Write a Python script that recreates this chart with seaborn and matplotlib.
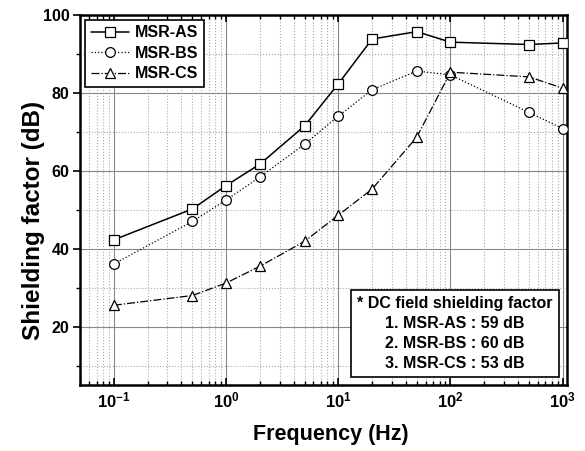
import matplotlib
matplotlib.use("Agg")
import matplotlib.pyplot as plt
import seaborn as sns
import pandas as pd
import numpy as np
from matplotlib.ticker import LogLocator, MultipleLocator, NullFormatter, FuncFormatter

freq = [0.1, 0.5, 1, 2, 5, 10, 20, 50, 100, 500, 1000]
msr_as = [42.3, 50.2, 56.2, 61.7, 71.5, 82.3, 93.8, 95.7, 93.0, 92.4, 92.8]
msr_bs = [36.1, 47.0, 52.5, 58.4, 66.8, 74.0, 80.8, 85.6, 84.6, 75.0, 70.8]
msr_cs = [25.5, 28.0, 31.2, 35.5, 41.9, 48.6, 55.3, 68.6, 85.3, 84.1, 81.2]
series_names = ["MSR-AS", "MSR-BS", "MSR-CS"]
note_lines = ["* DC field shielding factor", "1. MSR-AS : 59 dB", "2. MSR-BS : 60 dB", "3. MSR-CS : 53 dB"]

sns.set_style("ticks", {"text.color": "black", "axes.labelcolor": "black",
                        "xtick.color": "black", "ytick.color": "black"})
plt.rcParams['font.family'] = ['Liberation Sans', 'DejaVu Sans']
plt.rcParams['font.weight'] = 'bold'
plt.rcParams['text.color'] = 'black'
plt.rcParams['mathtext.fontset'] = 'custom'
plt.rcParams['mathtext.rm'] = 'Liberation Sans:bold'
plt.rcParams['mathtext.bf'] = 'Liberation Sans:bold'
plt.rcParams['mathtext.default'] = 'bf'

df = pd.DataFrame({
    "freq": freq * 3,
    "value": msr_as + msr_bs + msr_cs,
    "series": sum([[n] * len(freq) for n in series_names], []),
})

fig = plt.figure(figsize=(5.85, 4.51), dpi=100)
ax = fig.add_axes([0.137, 0.146, 0.832, 0.821])

styles = {"MSR-AS": ("-", "s"), "MSR-BS": (":", "o"), "MSR-CS": ("-.", "^")}
for name in series_names:
    ls, mk = styles[name]
    sub = df[df.series == name]
    sns.lineplot(data=sub, x="freq", y="value", ax=ax, color="black", linestyle=ls,
                 linewidth=1.1 if ls == "-" else 0.9, marker=mk, markersize=7,
                 markerfacecolor="white", markeredgecolor="black", markeredgewidth=0.9,
                 label=name, zorder=3)

ax.set_xscale("log")
ax.set_xlim(0.05, 1090)
ax.set_ylim(5, 100)
ax.xaxis.set_major_locator(LogLocator(base=10, numticks=10))
ax.xaxis.set_minor_locator(LogLocator(base=10, subs=np.arange(2, 10), numticks=20))
ax.xaxis.set_minor_formatter(NullFormatter())
ax.xaxis.set_major_formatter(FuncFormatter(lambda v, p: r"$10^{%d}$" % int(round(np.log10(v)))))
ax.yaxis.set_major_locator(MultipleLocator(20))
ax.yaxis.set_minor_locator(MultipleLocator(10))

ax.grid(which="major", color="#888888", linestyle="-", linewidth=0.8, zorder=0)
ax.grid(which="minor", color="#aaaaaa", linestyle=":", linewidth=0.8, zorder=0)

ax.tick_params(axis="x", which="both", direction="in", top=True, colors="black", labelsize=12)
ax.tick_params(axis="y", which="both", direction="out", colors="black", labelsize=11.5, pad=2.5)
ax.tick_params(which="major", length=5, width=1.2)
ax.tick_params(which="minor", length=3, width=1.0)
for lab in ax.get_yticklabels():
    lab.set_fontweight("bold")

for s in ax.spines.values():
    s.set_linewidth(1.8)
    s.set_color("black")

ax.set_xlabel("Frequency (Hz)", fontsize=15.5, fontweight="bold", color="black")
ax.set_ylabel("Shielding factor (dB)", fontsize=17.5, fontweight="bold", color="black")
ax.xaxis.set_label_coords(0.515, -0.105)
ax.yaxis.set_label_coords(-0.072, 0.446)

leg = ax.legend(loc="upper left", frameon=True, fancybox=False,
                prop={"weight": "bold", "size": 11.5}, handlelength=2.4,
                borderaxespad=0.3, labelspacing=0.35, borderpad=0.35, handletextpad=0.4)
leg.get_frame().set_edgecolor("black")
leg.get_frame().set_linewidth(1.2)
leg.get_frame().set_alpha(1)
for t in leg.get_texts():
    t.set_color("black")

ax.text(0.77, 0.14, "\n".join(note_lines), transform=ax.transAxes, ha="center", va="center",
        fontsize=11.5, fontweight="bold", color="black", linespacing=1.4, multialignment="center", zorder=5,
        bbox=dict(boxstyle="square,pad=0.4", facecolor="white", edgecolor="black", linewidth=1.2))

fig.savefig("out.png", dpi=100)
